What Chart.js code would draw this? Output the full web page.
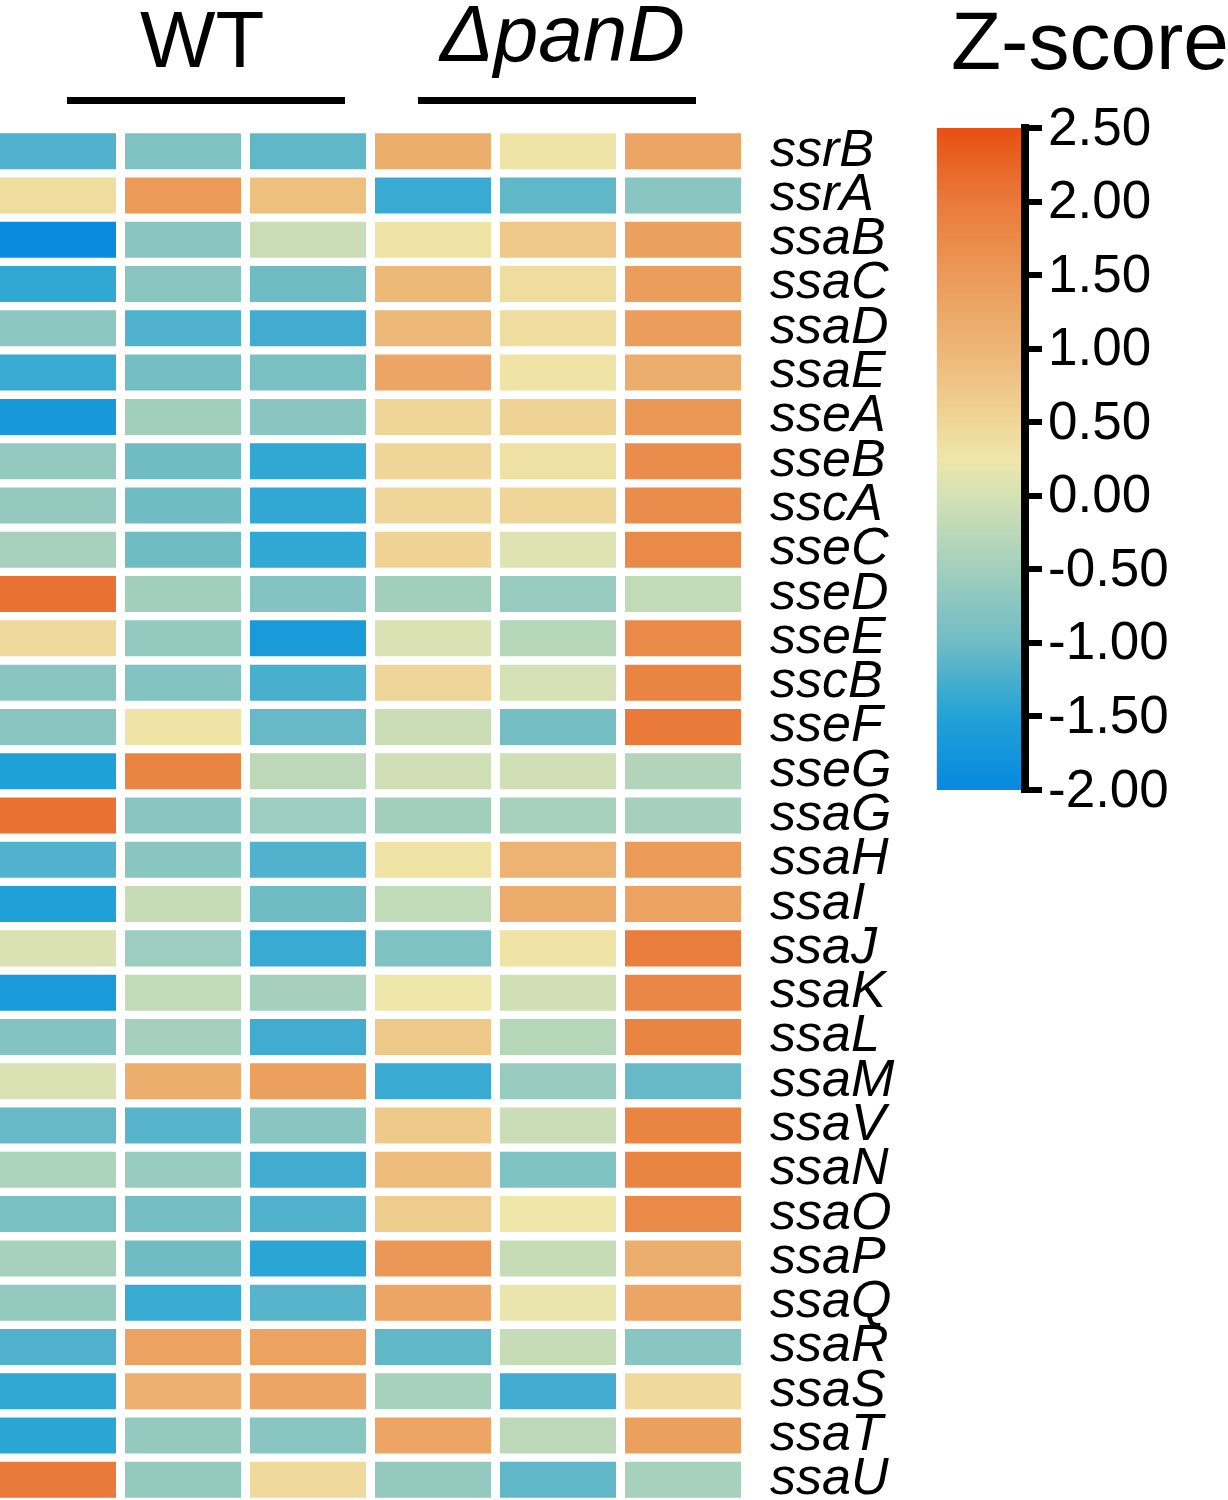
<!DOCTYPE html>
<html>
<head>
<meta charset="utf-8">
<script src="https://cdn.jsdelivr.net/npm/chart.js@4.4.1/dist/chart.umd.min.js"></script>
<style>
  html, body { margin: 0; padding: 0; background: #fff; overflow: hidden; }
  body { width: 1228px; height: 1500px; position: relative; font-family: "Liberation Sans", Arial, sans-serif; }
  #heatmap { position: absolute; left: 0; top: 0; }
  #colorbar { position: absolute; left: 900px; top: 100px; }
  .head { position: absolute; font-size: 80px; line-height: 80px; color: #000; white-space: nowrap; }
  .bar { position: absolute; background: #000; height: 7px; top: 97px; width: 278px; }
</style>
</head>
<body>
<div class="head" style="left:140px; top:0px;">WT</div>
<div class="head" style="left:440px; top:-6px;"><i>ΔpanD</i></div>
<div class="bar" style="left:67px;"></div>
<div class="bar" style="left:418px;"></div>
<div class="head" style="left:951px; top:1px; font-size:82px;">Z-score</div>

<canvas id="heatmap" width="1228" height="1502"></canvas>
<canvas id="colorbar" width="328" height="720"></canvas>

<script>
// genes (rows, top to bottom)
const genes = ['ssrB', 'ssrA', 'ssaB', 'ssaC', 'ssaD', 'ssaE', 'sseA', 'sseB', 'sscA', 'sseC',
  'sseD', 'sseE', 'sscB', 'sseF', 'sseG', 'ssaG', 'ssaH', 'ssaI', 'ssaJ', 'ssaK',
  'ssaL', 'ssaM', 'ssaV', 'ssaN', 'ssaO', 'ssaP', 'ssaQ', 'ssaR', 'ssaS', 'ssaT', 'ssaU'];

// samples (columns, left to right)
const samples = ['WT-1', 'WT-2', 'WT-3', 'ΔpanD-1', 'ΔpanD-2', 'ΔpanD-3'];

// z-scores per sample, one value per gene
const wt1 = [-1.2, 0.4, -1.95, -1.4, -0.72, -1.35, -1.7, -0.65, -0.65, -0.45, 2.1, 0.45, -0.75, -0.75, -1.55, 2.1,
  -1.2, -1.55, 0.05, -1.65, -0.8, 0.05, -1.05, -0.4, -0.9, -0.45, -0.65, -1.2, -1.4, -1.45, 2.0];
const wt2 = [-0.85, 1.5, -0.75, -0.75, -1.2, -0.95, -0.5, -1.0, -1.0, -1.0, -0.5, -0.65, -0.8, 0.3, 1.85, -0.75,
  -0.75, -0.15, -0.55, -0.2, -0.48, 1.15, -1.15, -0.6, -0.95, -1.0, -1.35, 1.35, 1.1, -0.65, -0.65];
const wt3 = [-1.1, 0.85, -0.1, -1.0, -1.3, -0.9, -0.75, -1.4, -1.4, -1.4, -0.8, -1.65, -1.25, -1.05, -0.25, -0.55,
  -1.2, -1.0, -1.35, -0.48, -1.3, 1.4, -0.75, -1.3, -1.2, -1.45, -1.15, 1.35, 1.3, -0.75, 0.45];
const pan1 = [1.15, -1.35, 0.3, 0.95, 0.95, 1.3, 0.5, 0.5, 0.5, 0.55, -0.5, 0.05, 0.5, -0.1, -0.05, -0.5,
  0.3, -0.2, -0.85, 0.25, 0.7, -1.35, 0.7, 0.9, 0.65, 1.55, 1.3, -1.1, -0.45, 1.3, -0.65];
const pan2 = [0.28, -1.1, 0.7, 0.4, 0.4, 0.3, 0.55, 0.35, 0.5, 0.1, -0.6, -0.3, 0.0, -0.95, -0.05, -0.45,
  1.05, 1.2, 0.3, -0.05, -0.3, -0.6, -0.1, -0.85, 0.25, -0.15, 0.2, -0.15, -1.3, -0.25, -1.1];
const pan3 = [1.3, -0.75, 1.4, 1.45, 1.45, 1.15, 1.55, 1.7, 1.7, 1.75, -0.2, 1.75, 1.85, 2.0, -0.35, -0.48,
  1.5, 1.35, 1.95, 1.8, 1.85, -1.05, 1.85, 1.85, 1.75, 1.15, 1.3, -0.75, 0.45, 1.4, -0.45];

// colour bar ticks
const colorbarTicks = [-2, -1.5, -1, -0.5, 0, 0.5, 1, 1.5, 2, 2.5];

// colour map stops
const stopValues = [-2, -1.5, -1, -0.5, 0, 0.25, 0.5, 1, 1.5, 2, 2.5];
const stopColors = ['#0689e0', '#22a2d6', '#6fbcc5', '#a2cfbd', '#d5e1b5', '#efe6aa',
  '#efd698', '#edb676', '#eb9a58', '#e97a3a', '#e85012'];

const zMin = -2, zMax = 2.5;
const columns = [wt1, wt2, wt3, pan1, pan2, pan3];

function hexToRgb(h) {
  return [parseInt(h.slice(1, 3), 16), parseInt(h.slice(3, 5), 16), parseInt(h.slice(5, 7), 16)];
}

function zColor(v) {
  v = Math.max(zMin, Math.min(zMax, v));
  let i = 0;
  while (i < stopValues.length - 2 && v > stopValues[i + 1]) i++;
  const t = (v - stopValues[i]) / (stopValues[i + 1] - stopValues[i]);
  const a = hexToRgb(stopColors[i]), b = hexToRgb(stopColors[i + 1]);
  const c = a.map((x, k) => Math.round(x + (b[k] - x) * t));
  return `rgb(${c[0]}, ${c[1]}, ${c[2]})`;
}

const FONT = '"Liberation Sans", Arial, sans-serif';
const cellWidth = 0.928; // fraction of a column filled by a cell

// Heatmap
new Chart(document.getElementById('heatmap'), {
  type: 'bar',
  data: {
    labels: genes,
    datasets: columns.map((vals, c) => ({
      label: samples[c],
      data: vals.map(() => [c, c + cellWidth]),
      backgroundColor: vals.map(zColor),
      borderWidth: 0,
      grouped: false,
      barPercentage: 0.813,
      categoryPercentage: 1
    }))
  },
  options: {
    indexAxis: 'y',
    responsive: false,
    animation: false,
    layout: { padding: { top: 129, left: 0, right: 0, bottom: 0 } },
    plugins: { legend: { display: false }, tooltip: { enabled: false } },
    scales: {
      x: { type: 'linear', min: 0, max: samples.length, display: false },
      y: {
        position: 'right',
        grid: { display: false, drawTicks: false },
        border: { display: false },
        afterFit: (scale) => {
          scale.width = 478;
          scale.paddingTop = 0;
          scale.paddingBottom = 0;
        },
        ticks: {
          autoSkip: false,
          padding: 20,
          color: '#000',
          font: { family: FONT, size: 52, style: 'italic' }
        }
      }
    }
  }
});

// Colour bar
new Chart(document.getElementById('colorbar'), {
  type: 'bar',
  data: {
    labels: ['Z-score'],
    datasets: [{
      data: [[zMin, zMax]],
      borderWidth: 0,
      barPercentage: 0.96,
      categoryPercentage: 1,
      backgroundColor: (ctx) => {
        const chart = ctx.chart;
        if (!chart.chartArea) return '#ccc';
        const y = chart.scales.y;
        const g = chart.ctx.createLinearGradient(0, y.getPixelForValue(zMin), 0, y.getPixelForValue(zMax));
        stopValues.forEach((v, i) => g.addColorStop((v - zMin) / (zMax - zMin), stopColors[i]));
        return g;
      }
    }]
  },
  options: {
    responsive: false,
    animation: false,
    layout: { padding: { top: 28, bottom: 30, left: 35, right: 0 } },
    plugins: { legend: { display: false }, tooltip: { enabled: false } },
    scales: {
      x: { display: false },
      y: {
        position: 'right',
        min: zMin,
        max: zMax,
        afterBuildTicks: (scale) => { scale.ticks = colorbarTicks.map(v => ({ value: v })); },
        afterFit: (scale) => {
          scale.width = 203;
          scale.paddingTop = 0;
          scale.paddingBottom = 0;
        },
        grid: {
          display: true, drawOnChartArea: false, drawTicks: true, z: 1,
          tickLength: 17, lineWidth: 6, tickWidth: 6, color: '#000'
        },
        border: { display: true, color: '#000', width: 8, z: 1 },
        ticks: {
          autoSkip: false,
          padding: 6,
          labelOffset: 2,
          color: '#000',
          font: { family: FONT, size: 53 },
          callback: (v) => Number(v).toFixed(2)
        }
      }
    }
  }
});
</script>
</body>
</html>
